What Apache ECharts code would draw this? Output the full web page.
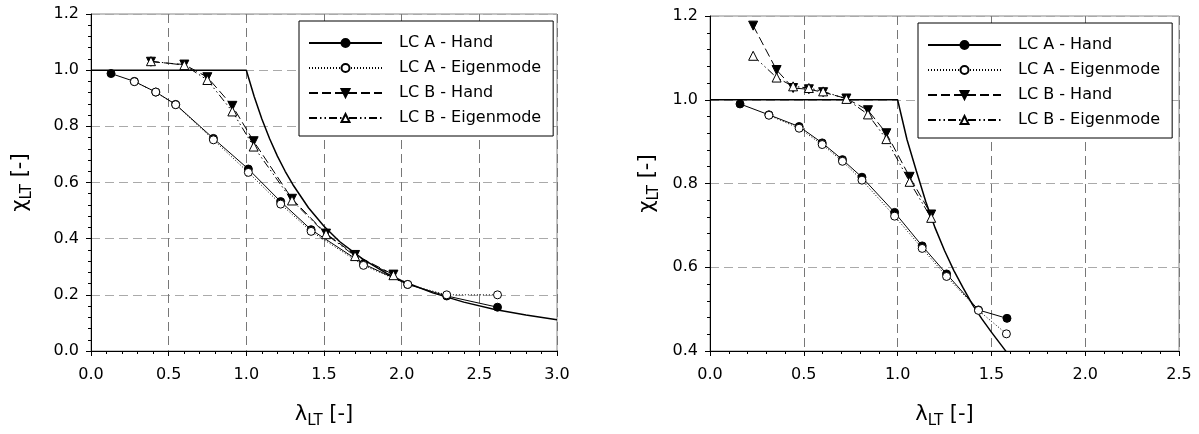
<!DOCTYPE html>
<html>
<head>
<meta charset="utf-8">
<script src="https://cdn.jsdelivr.net/npm/echarts@6/dist/echarts.min.js"></script>
<style>
  html, body { margin: 0; padding: 0; background: #fff; }
  #chart { width: 1199px; height: 434px; }
</style>
</head>
<body>
<div id="chart"></div>
<script>
// legend names
var names = ['LC A - Hand', 'LC A - Eigenmode', 'LC B - Hand', 'LC B - Eigenmode'];

// left panel [lambda, chi]
var designL = [[0, 1], [1.0, 1.0], [1.05, 0.907], [1.1, 0.826], [1.15, 0.756], [1.2, 0.694], [1.25, 0.64],
  [1.3, 0.592], [1.4, 0.51], [1.5, 0.444], [1.6, 0.39], [1.75, 0.327], [1.9, 0.277], [2.0, 0.25],
  [2.2, 0.207], [2.4, 0.174], [2.6, 0.148], [2.8, 0.128], [3.0, 0.111]];
var aHandL = [[0.129, 0.988], [0.279, 0.96], [0.417, 0.922], [0.545, 0.878], [0.788, 0.757], [1.013, 0.648],
  [1.221, 0.532], [1.417, 0.432], [1.754, 0.31], [2.039, 0.237], [2.29, 0.196], [2.617, 0.156]];
var aEigenL = [[0.279, 0.959], [0.417, 0.922], [0.545, 0.877], [0.788, 0.752], [1.013, 0.636], [1.221, 0.523],
  [1.417, 0.426], [1.754, 0.305], [2.039, 0.237], [2.29, 0.2], [2.617, 0.2]];
var bHandL = [[0.386, 1.03], [0.601, 1.02], [0.749, 0.975], [0.91, 0.873], [1.047, 0.747], [1.294, 0.542],
  [1.513, 0.418], [1.70, 0.342], [1.947, 0.272]];
var bEigenL = [[0.386, 1.032], [0.601, 1.018], [0.749, 0.965], [0.91, 0.853], [1.047, 0.728], [1.294, 0.536],
  [1.513, 0.416], [1.70, 0.338], [1.947, 0.27]];

// right panel [lambda, chi]
var designR = [[0, 1], [1.0, 1.0], [1.05, 0.905], [1.1, 0.83], [1.15, 0.757], [1.2, 0.694], [1.25, 0.64],
  [1.3, 0.592], [1.35, 0.55], [1.4, 0.51], [1.45, 0.476], [1.5, 0.445], [1.58, 0.398]];
var aHandR = [[0.16, 0.99], [0.314, 0.964], [0.475, 0.936], [0.598, 0.897], [0.706, 0.857], [0.81, 0.815],
  [0.984, 0.731], [1.131, 0.651], [1.261, 0.584], [1.431, 0.498], [1.583, 0.478]];
var aEigenR = [[0.314, 0.963], [0.475, 0.932], [0.598, 0.893], [0.706, 0.853], [0.81, 0.808], [0.984, 0.722],
  [1.131, 0.645], [1.261, 0.578], [1.431, 0.497], [1.58, 0.441]];
var bHandR = [[0.23, 1.177], [0.355, 1.071], [0.443, 1.028], [0.527, 1.025], [0.603, 1.018], [0.727, 1.003],
  [0.842, 0.975], [0.94, 0.92], [1.064, 0.816], [1.179, 0.726]];
var bEigenR = [[0.23, 1.105], [0.355, 1.053], [0.443, 1.032], [0.527, 1.028], [0.603, 1.02], [0.727, 1.002],
  [0.842, 0.965], [0.94, 0.906], [1.064, 0.804], [1.179, 0.718]];

var FONT = 'DejaVu Sans';
var styles = [
  { line: 'solid', symbol: 'circle', rot: 0, size: 8, fill: '#000' },
  { line: [1, 2], symbol: 'circle', rot: 0, size: 8, fill: '#fff' },
  { line: [9, 4], symbol: 'triangle', rot: 180, size: 9, fill: '#000' },
  { line: [8, 3, 1.5, 3, 1.5, 3], symbol: 'triangle', rot: 0, size: 9, fill: '#fff' }
];

function dataSeries(i, data, idx) {
  var s = styles[i];
  return {
    name: names[i], type: 'line', xAxisIndex: idx, yAxisIndex: idx, data: data,
    symbol: s.symbol, symbolSize: s.size, symbolRotate: s.rot, showAllSymbol: true,
    lineStyle: { color: '#000', width: 1, type: s.line },
    itemStyle: { color: s.fill, borderColor: '#000', borderWidth: 1 },
    emphasis: { disabled: true }, animation: false
  };
}
function designSeries(data, idx) {
  return {
    name: 'design', type: 'line', xAxisIndex: idx, yAxisIndex: idx, data: data,
    symbol: 'none', lineStyle: { color: '#000', width: 1.5 }, animation: false, z: 1
  };
}

var axisName = {
  a: { fontFamily: FONT, fontSize: 21, color: '#000', lineHeight: 28 },
  s: { fontFamily: FONT, fontSize: 15, color: '#000', lineHeight: 15, verticalAlign: 'bottom' }
};
function xAxis(idx, max) {
  return {
    type: 'value', gridIndex: idx, min: 0, max: max, interval: 0.5,
    name: '{a|λ}{s|LT}{a| [-]}', nameLocation: 'middle', nameGap: 50,
    nameTextStyle: { rich: axisName },
    axisLine: { lineStyle: { color: '#000', width: 1 } },
    axisTick: { show: true, length: 5, lineStyle: { color: '#000' } },
    minorTick: { show: true, splitNumber: 5, length: 3, lineStyle: { color: '#000' } },
    axisLabel: { fontFamily: FONT, fontSize: 16, color: '#000', margin: 16, formatter: function (v) { return v.toFixed(1); } },
    splitLine: { show: true, lineStyle: { color: '#777', type: [9, 5], width: 1 } }
  };
}
function yAxis(idx, min, gap) {
  return {
    type: 'value', gridIndex: idx, min: min, max: 1.2, interval: 0.2,
    name: '{a|χ}{s|LT}{a| [-]}', nameLocation: 'middle', nameGap: gap, nameRotate: 90,
    nameTextStyle: { rich: axisName },
    axisLine: { show: true, lineStyle: { color: '#000', width: 1 } },
    axisTick: { show: true, length: 5, lineStyle: { color: '#000' } },
    minorTick: { show: true, splitNumber: 5, length: 3, lineStyle: { color: '#000' } },
    axisLabel: { fontFamily: FONT, fontSize: 16, color: '#000', margin: 12, formatter: function (v) { return v.toFixed(1); } },
    splitLine: { show: true, lineStyle: { color: '#aaa', type: [9, 5], width: 1 } }
  };
}
function legend(left, top) {
  return {
    data: names, orient: 'vertical', left: left, top: top,
    backgroundColor: '#fff', borderColor: '#000', borderWidth: 1, borderRadius: 0,
    padding: [14, 12, 10, 9], itemWidth: 73, itemHeight: 10, itemGap: 9,
    selectedMode: false,
    textStyle: { fontFamily: FONT, fontSize: 16, color: '#000', padding: [0, 0, 0, 12] }
  };
}

var chart = echarts.init(document.getElementById('chart'), null, { renderer: 'canvas' });
chart.setOption({
  backgroundColor: '#fff',
  animation: false,
  grid: [
    { left: 91, top: 14, right: 642, bottom: 82, show: true, borderColor: '#888', borderWidth: 1 },
    { left: 710, top: 16, right: 20, bottom: 82, show: true, borderColor: '#888', borderWidth: 1 }
  ],
  xAxis: [xAxis(0, 3), xAxis(1, 2.5)],
  yAxis: [yAxis(0, 0, 56), yAxis(1, 0.4, 48)],
  legend: [legend(299, 21), legend(918, 23)],
  series: [
    designSeries(designL, 0),
    dataSeries(0, aHandL, 0), dataSeries(1, aEigenL, 0), dataSeries(2, bHandL, 0), dataSeries(3, bEigenL, 0),
    designSeries(designR, 1),
    dataSeries(0, aHandR, 1), dataSeries(1, aEigenR, 1), dataSeries(2, bHandR, 1), dataSeries(3, bEigenR, 1)
  ]
});
</script>
</body>
</html>
